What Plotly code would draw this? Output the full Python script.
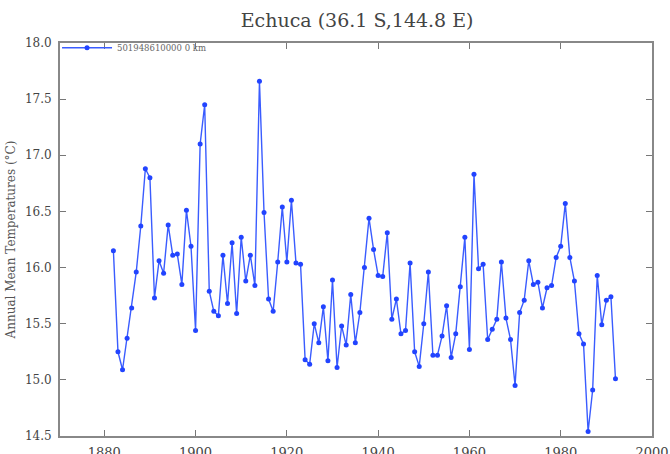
import plotly.graph_objects as go

years = list(range(1882, 1993))
temps = [
    16.15, 15.25, 15.09, 15.37, 15.64, 15.96, 16.37, 16.88, 16.80, 15.73,  # 1882-1891
    16.06, 15.95, 16.38, 16.11, 16.12, 15.85, 16.51, 16.19, 15.44, 17.10,  # 1892-1901
    17.45, 15.79, 15.61, 15.57, 16.11, 15.68, 16.22, 15.59, 16.27, 15.88,  # 1902-1911
    16.11, 15.84, 17.66, 16.49, 15.72, 15.61, 16.05, 16.54, 16.05, 16.60,  # 1912-1921
    16.04, 16.03, 15.18, 15.14, 15.50, 15.33, 15.65, 15.17, 15.89, 15.11,  # 1922-1931
    15.48, 15.31, 15.76, 15.33, 15.60, 16.00, 16.44, 16.16, 15.93, 15.92,  # 1932-1941
    16.31, 15.54, 15.72, 15.41, 15.44, 16.04, 15.25, 15.12, 15.50, 15.96,  # 1942-1951
    15.22, 15.22, 15.39, 15.66, 15.20, 15.41, 15.83, 16.27, 15.27, 16.83,  # 1952-1961
    15.99, 16.03, 15.36, 15.45, 15.54, 16.05, 15.55, 15.36, 14.95, 15.60,  # 1962-1971
    15.71, 16.06, 15.85, 15.87, 15.64, 15.82, 15.84, 16.09, 16.19, 16.57,  # 1972-1981
    16.09, 15.88, 15.41, 15.32, 14.54, 14.91, 15.93, 15.49, 15.71, 15.74,  # 1982-1991
    15.01,                                                                  # 1992
]
series_name = "501948610000 0 km"
title_text = "Echuca (36.1 S,144.8 E)"
y_title = "Annual Mean Temperatures (°C)"
x_ticks = [1880, 1900, 1920, 1940, 1960, 1980, 2000]
y_ticks = [14.5, 15.0, 15.5, 16.0, 16.5, 17.0, 17.5, 18.0]

fig = go.Figure()
fig.add_trace(go.Scatter(
    x=years, y=temps, name=series_name, mode="lines+markers",
    line=dict(color="#3a5cff", width=1.4),
    marker=dict(color="#2244ff", size=5, symbol="circle"),
))

serif = "DejaVu Serif, serif"
axis_common = dict(
    showline=True, linecolor="#888", linewidth=2, mirror="ticks",
    ticks="inside", ticklen=6, tickcolor="#777", tickwidth=1.2,
    showgrid=False, zeroline=False, automargin=False,
)
fig.update_layout(
    width=670, height=454,
    margin=dict(l=60, r=18, t=43, b=18),
    paper_bgcolor="white", plot_bgcolor="white",
    title=dict(text=title_text, x=0.533, xanchor="center", y=0.956, yanchor="middle",
               font=dict(family=serif, size=19, color="#444")),
    xaxis=dict(range=[1870.3, 2000], tickvals=x_ticks, ticklabelstandoff=3,
               tickfont=dict(family=serif, size=13, color="#444"), **axis_common),
    yaxis=dict(range=[14.5, 18.0], tickvals=y_ticks, tickformat=".1f",
               ticklabelstandoff=4,
               tickfont=dict(family=serif, size=12, color="#444"),
               title=dict(text=y_title, standoff=7,
                          font=dict(family=serif, size=12, color="#555")),
               **axis_common),
    showlegend=True,
    legend=dict(x=-0.005, y=1.025, xanchor="left", yanchor="top",
                bgcolor="rgba(0,0,0,0)", borderwidth=0,
                font=dict(family=serif, size=8.5, color="#666"),
                tracegroupgap=0, itemwidth=50),
)
fig.write_html("out.html", config={"displayModeBar": False},
               post_script="document.body.style.margin='0px';")
